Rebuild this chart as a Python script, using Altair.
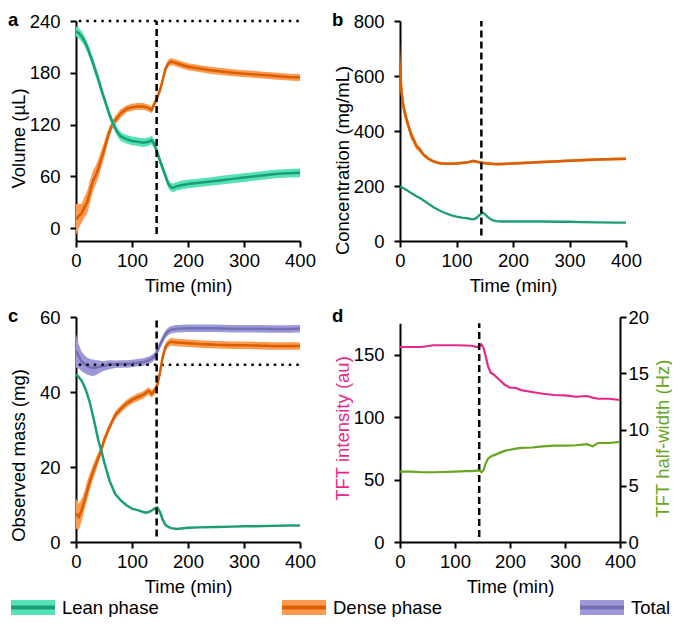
import altair as alt
import pandas as pd

FONT = "Liberation Sans"
FS = 18.5

LEAN_LINE, LEAN_BAND = "#1b9e77", "#55e2b6"
DENSE_LINE, DENSE_BAND = "#d95f02", "#fd9a50"
TOTAL_LINE, TOTAL_BAND = "#7570b3", "#9d99d9"
PINK, GREEN = "#e7298a", "#66a61e"

# ---------------- data ----------------
# panel a: volume (uL)
t_a = [0, 5, 10, 15, 20, 25, 30, 35, 40, 45, 50, 55, 60, 65, 70, 75, 80, 90, 100, 110,
       120, 130, 135, 140, 145, 150, 155, 160, 165, 170, 175, 180, 190, 200, 220, 240, 260, 280, 300, 320,
       340, 360, 380, 400]
lean_vol = [228, 226, 222, 217, 210, 201, 192, 182, 172, 161, 151, 141, 131, 123, 116, 110, 106, 103, 101, 100,
            99, 100, 102, 97, 88, 78, 69, 60, 51, 47, 47, 48.5, 50, 51, 52.5, 54, 55.5, 57, 58.5, 60,
            61.5, 63, 63.5, 64]
lean_vol_err = [6, 6, 6, 6, 6, 6, 6, 6, 6, 6, 5, 5, 5, 5, 5, 5, 5, 5, 5, 5,
                5, 5, 5, 5, 5, 5, 5, 5, 5, 5, 5, 5, 5, 5, 5, 5, 5, 5, 5, 5,
                5, 5, 5, 5]
dense_vol = [10, 14, 17, 24, 30, 42, 54, 61, 69, 80, 90, 102, 112, 120, 125, 129, 133, 138, 140, 141,
             141, 139, 137, 144, 151, 160, 172, 185, 191, 193, 192, 191, 189, 187, 185, 183, 181.5, 180, 179, 178,
             177, 176, 175, 174.5]
dense_vol_err = [18, 14, 11, 12, 13, 13, 12, 11, 11, 10, 9, 8, 6, 5, 5, 5, 5, 4, 4, 4,
                 4, 4, 4, 4, 4, 4, 4, 4, 4, 4, 4, 4, 4, 4, 4, 4, 4, 4, 4, 4,
                 4, 4, 4, 4]
total_vol_level = 240

# panel b: concentration (mg/mL)
t_b = [0, 1, 2, 3, 5, 7, 10, 12, 15, 18, 20, 22, 25, 28, 30, 35, 40, 45, 50, 55,
       60, 70, 80, 90, 100, 110, 120, 125, 130, 135, 140, 145, 148, 150, 155, 160, 165, 170, 180, 200,
       220, 250, 280, 300, 320, 350, 380, 400]
lean_conc = [198, 197, 196, 195, 193, 191, 187, 185, 181, 177, 174, 172, 168, 164, 162, 156, 150, 143, 136, 129,
             122, 111, 102, 94, 89, 85, 82, 80, 79, 83, 93, 101, 102, 98, 88, 80, 75, 72, 71, 71,
             71, 71, 70, 70, 69, 68, 67, 67]
dense_conc = [640, 600, 565, 540, 505, 480, 455, 440, 418, 398, 385, 376, 365, 350, 342, 333, 318, 308, 300, 294,
              289, 283, 281, 281, 282, 284, 286, 289, 291, 289, 286, 285, 284, 283, 282, 281, 280, 280, 280, 282,
              284, 287, 290, 292, 294, 296, 298, 299]
dense_conc_err = [80, 55, 45, 35, 28, 25, 22, 20, 18, 18, 18, 16, 15, 13, 12, 10, 8, 7, 6, 6,
                  5, 5, 5, 5, 5, 5, 5, 5, 5, 5, 5, 5, 5, 5, 5, 5, 5, 5, 5, 5,
                  5, 5, 5, 5, 5, 5, 5, 5]

# panel c: observed mass (mg)
t_c = [0, 5, 10, 15, 20, 25, 30, 35, 40, 45, 50, 60, 70, 80, 90, 100, 110, 120, 125, 130,
       135, 140, 145, 150, 155, 160, 165, 170, 180, 200, 220, 250, 280, 300, 320, 350, 380, 400]
lean_mass = [44.7, 44, 43, 41.5, 39.5, 37, 33.8, 30.5, 27, 24.5, 21.5, 16.3, 12.8, 11.1, 9.8, 8.9, 8.5, 8.0, 7.8, 8.0,
             8.4, 8.9, 9.2, 8.0, 5.9, 4.5, 4.0, 3.7, 3.5, 3.8, 3.9, 4.0, 4.1, 4.2, 4.2, 4.3, 4.4, 4.4]
dense_mass = [7.6, 6.7, 8.5, 11, 13.7, 16.3, 18.5, 20.5, 22.5, 24.5, 27, 30.7, 33.8, 35.5, 36.9, 37.9, 38.6, 39.2, 39.8, 40.3,
              39.5, 40.3, 41.7, 45.2, 49.5, 52.1, 53.0, 53.4, 53.2, 53.0, 52.8, 52.6, 52.5, 52.5, 52.4, 52.3, 52.3, 52.3]
dense_mass_err = [4, 3.5, 3, 2.5, 2.5, 2.2, 2, 1.8, 1.5, 1.3, 1.2, 1, 1, 1, 1, 1, 1, 1, 1, 1,
                  1, 1, 1, 1, 1, 1, 1, 1, 1, 1, 1, 1, 1, 1, 1, 1, 1, 1]
total_mass = [51, 49.5, 48.2, 47.5, 46.9, 46.6, 46.5, 46.5, 46.7, 46.8, 47, 47.3, 47.4, 47.5, 47.5, 47.6, 47.8, 48, 48.2, 48.5,
              48.9, 49.5, 50.8, 52.6, 54.1, 55.5, 56.2, 56.6, 56.9, 57, 57, 57, 56.9, 56.9, 56.9, 56.8, 56.8, 56.9]
total_mass_err = [4.5, 3.2, 2.6, 2.4, 2.3, 2.2, 2.2, 2, 1.8, 1.5, 1.3, 1.2, 1, 1, 1, 1, 1, 1, 1, 1,
                  1, 1, 1, 1, 1, 1, 1, 1, 1, 1, 1, 1, 1, 1, 1, 1, 1, 1]
initial_mass_level = 47.3

# panel d: TFT
t_d = [0, 20, 40, 60, 80, 100, 120, 130, 140, 145, 148, 152, 155, 160, 165, 170, 180, 190, 200, 210,
       220, 240, 260, 280, 300, 320, 340, 350, 360, 380, 400]
tft_intensity = [156, 156, 156, 157.4, 157.4, 157.4, 157.2, 157, 156, 157, 158, 155, 150, 140.7, 135.4, 134, 130, 126, 123.4, 123.4,
                 121.5, 120, 118.6, 117.6, 117.3, 116.2, 116.8, 115.5, 114.6, 114.6, 113.6]
tft_halfwidth = [6.25, 6.25, 6.2, 6.2, 6.22, 6.25, 6.3, 6.3, 6.34, 6.34, 6.2, 6.4, 6.9, 7.4, 7.6, 7.7, 7.9, 8.1, 8.2, 8.3,
                 8.36, 8.4, 8.5, 8.56, 8.56, 8.6, 8.7, 8.5, 8.8, 8.8, 8.9]

addition_time = 144
legend_labels = ["Lean phase", "Dense phase", "Total"]
legend_x = [-65, 206, 504]

# ---------------- helpers ----------------
WA, WB, WD = 224, 226, 220
H1, H2 = 220, 225
LBLX, TTLX = -68, -58
xvals = [0, 100, 200, 300, 400]


def xenc():
    return alt.X("t:Q", scale=alt.Scale(domain=[0, 400], nice=False),
                 axis=alt.Axis(values=xvals, title="Time (min)"))


def band_df(t, m, e):
    return pd.DataFrame({"t": t, "m": m, "lo": [a - b for a, b in zip(m, e)],
                         "hi": [a + b for a, b in zip(m, e)]})


def band_layers(df, yscale, band_color, line_color, yaxis):
    area = alt.Chart(df).mark_area(color=band_color, opacity=1).encode(
        x=xenc(), y=alt.Y("lo:Q", scale=yscale, axis=yaxis), y2="hi:Q")
    line = alt.Chart(df).mark_line(color=line_color, strokeWidth=2.5).encode(
        x=xenc(), y=alt.Y("m:Q", scale=yscale, axis=yaxis))
    return [area, line]


def vline(lo, hi, yscale):
    df = pd.DataFrame({"t": [addition_time], "lo": [lo], "hi": [hi]})
    return alt.Chart(df).mark_rule(color="black", strokeWidth=2.5, strokeDash=[7, 4]).encode(
        x=xenc(), y=alt.Y("lo:Q", scale=yscale), y2="hi:Q")


def hdots(level, yscale):
    df = pd.DataFrame({"t0": [5], "t1": [400], "y": [level]})
    return alt.Chart(df).mark_rule(color="black", strokeWidth=2.5, strokeDash=[2.5, 5]).encode(
        x=alt.X("t0:Q", scale=alt.Scale(domain=[0, 400], nice=False)), x2="t1:Q",
        y=alt.Y("y:Q", scale=yscale))


def plabel(s):
    return alt.Chart(pd.DataFrame({"lab": [s]})).mark_text(
        font=FONT, fontSize=FS, fontWeight="bold", align="left", baseline="alphabetic", color="black"
    ).encode(text="lab:N", x=alt.value(LBLX), y=alt.value(5))


def yaxis(values, title, ty, **kw):
    return alt.Axis(values=values, title=title, titleX=TTLX, titleY=ty, titleAngle=270,
                    titleBaseline="middle", **kw)


# ---------------- panel a ----------------
ys_a = alt.Scale(domain=[-15, 240], nice=False, zero=False)
ax_a = yaxis([0, 60, 120, 180, 240], "Volume (µL)", 117)
df_lv = band_df(t_a, lean_vol, lean_vol_err)
df_dv = band_df(t_a, dense_vol, dense_vol_err)
panel_a = alt.layer(
    hdots(total_vol_level, ys_a),
    *band_layers(df_dv, ys_a, DENSE_BAND, DENSE_LINE, ax_a),
    *band_layers(df_lv, ys_a, LEAN_BAND, LEAN_LINE, ax_a),
    vline(-7, 240, ys_a),
    plabel("a"),
).properties(width=WA, height=H1)

# ---------------- panel b ----------------
ys_b = alt.Scale(domain=[0, 800], nice=False)
ax_b = yaxis(list(range(0, 801, 100)), "Concentration (mg/mL)", 139,
             labelExpr="datum.value % 200 == 0 ? datum.label : ''")
df_dc = band_df(t_b, dense_conc, dense_conc_err)
df_lc = pd.DataFrame({"t": t_b, "m": lean_conc})
panel_b = alt.layer(
    *band_layers(df_dc, ys_b, DENSE_BAND, DENSE_LINE, ax_b),
    alt.Chart(df_lc).mark_line(color=LEAN_LINE, strokeWidth=2.3).encode(
        x=xenc(), y=alt.Y("m:Q", scale=ys_b, axis=ax_b)),
    vline(20, 800, ys_b),
    plabel("b"),
).properties(width=WB, height=H1)

# ---------------- panel c ----------------
ys_c = alt.Scale(domain=[0, 60], nice=False)
ax_c = yaxis([0, 20, 40, 60], "Observed mass (mg)", 138)
df_tm = band_df(t_c, total_mass, total_mass_err)
df_dm = band_df(t_c, dense_mass, dense_mass_err)
df_lm = pd.DataFrame({"t": t_c, "m": lean_mass})
panel_c = alt.layer(
    *band_layers(df_tm, ys_c, TOTAL_BAND, TOTAL_LINE, ax_c),
    hdots(initial_mass_level, ys_c),
    *band_layers(df_dm, ys_c, DENSE_BAND, DENSE_LINE, ax_c),
    alt.Chart(df_lm).mark_line(color=LEAN_LINE, strokeWidth=2.5).encode(
        x=xenc(), y=alt.Y("m:Q", scale=ys_c, axis=ax_c)),
    vline(1.5, 60, ys_c),
    plabel("c"),
).properties(width=WA, height=H2)

# ---------------- panel d ----------------
ys_dl = alt.Scale(domain=[0, 175], range=[H2, H2 - 175 * H2 / 180], nice=False)
ax_dl = yaxis(list(range(0, 176, 25)), "TFT intensity (au)", 111,
              labelExpr="datum.value % 50 == 0 ? datum.label : ''", titleColor=PINK)
ys_dr = alt.Scale(domain=[0, 20], nice=False)
ax_dr = alt.Axis(orient="right", values=[0, 5, 10, 15, 20], title="TFT half-width (Hz)",
                 titleColor=GREEN, titleAngle=270, titleBaseline="middle", titleX=42, titleY=121,
                 labelPadding=2)
df_d = pd.DataFrame({"t": t_d, "i": tft_intensity, "w": tft_halfwidth})
left_d = alt.layer(
    alt.Chart(df_d).mark_line(color=PINK, strokeWidth=2.2).encode(
        x=xenc(), y=alt.Y("i:Q", scale=ys_dl, axis=ax_dl)),
    vline(4, 175, ys_dl),
    plabel("d"),
)
right_d = alt.Chart(df_d).mark_line(color=GREEN, strokeWidth=2.2).encode(
    x=xenc(), y=alt.Y("w:Q", scale=ys_dr, axis=ax_dr))
panel_d = alt.layer(left_d, right_d).resolve_scale(y="independent").properties(width=WD, height=H2)

# ---------------- legend ----------------
LW = 560
leg_df = pd.DataFrame({"label": legend_labels, "x0": legend_x})
lx = alt.Scale(domain=[0, LW], range=[0, LW], nice=False, zero=False)
leg_base = alt.Chart(leg_df).transform_calculate(x1="datum.x0 + 44", xt="datum.x0 + 51")
leg_rect = leg_base.mark_rect().encode(
    x=alt.X("x0:Q", scale=lx, axis=None), x2="x1:Q", y=alt.value(0), y2=alt.value(15),
    fill=alt.Fill("label:N", scale=alt.Scale(domain=legend_labels,
                                             range=[LEAN_BAND, DENSE_BAND, TOTAL_BAND]), legend=None))
leg_line = leg_base.mark_rule(strokeWidth=4).encode(
    x=alt.X("x0:Q", scale=lx, axis=None), x2="x1:Q", y=alt.value(7.5),
    stroke=alt.Stroke("label:N", scale=alt.Scale(domain=legend_labels,
                                                 range=[LEAN_LINE, DENSE_LINE, TOTAL_LINE]), legend=None))
leg_text = leg_base.mark_text(font=FONT, fontSize=FS, align="left", baseline="middle", color="black").encode(
    x=alt.X("xt:Q", scale=lx, axis=None), y=alt.value(7.5), text="label:N")
legend = alt.layer(leg_rect, leg_line, leg_text).properties(width=LW, height=15)

row1 = alt.hconcat(panel_a, panel_b, spacing=16)
row2 = alt.hconcat(panel_c, panel_d, spacing=16)
chart = alt.vconcat(alt.vconcat(row1, row2, spacing=12), legend, spacing=2).properties(
    padding={"top": 3, "left": 0, "right": 0, "bottom": 0}, background="white"
).configure_view(stroke=None).configure_axis(
    domainColor="black", domainWidth=2, tickColor="black", tickWidth=2, tickSize=6,
    labelFont=FONT, labelFontSize=FS, labelColor="black", titleFont=FONT, titleFontSize=FS,
    titleFontWeight="normal", titleColor="black", grid=False
).configure_axisX(labelPadding=4, titlePadding=7, labelFlush=False).configure_axisY(labelPadding=10)

chart.save("out.html", embed_options={"renderer": "svg", "actions": False})
